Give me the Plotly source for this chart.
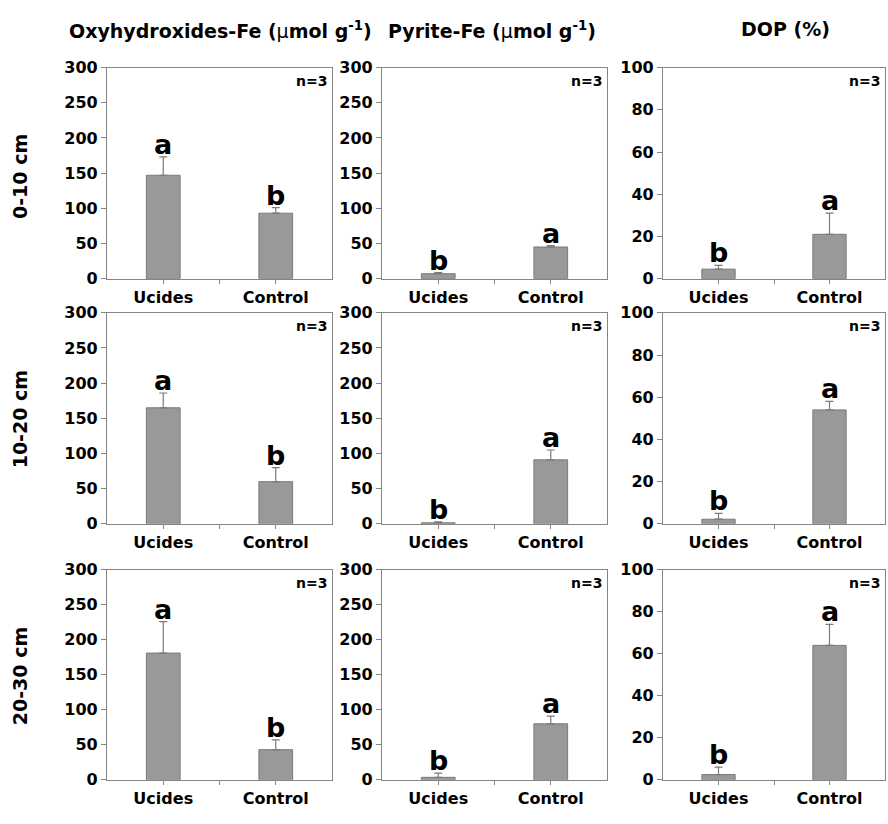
import plotly.graph_objects as go

W, H = 888, 824

categories = ["Ucides", "Control"]
depths = ["0-10 cm", "10-20 cm", "20-30 cm"]
columns = ["<b>Oxyhydroxides-Fe (</b>μ<b>mol g<sup>-1</sup>)</b>",
           "<b>Pyrite-Fe (</b>μ<b>mol g<sup>-1</sup>)</b>",
           "<b>DOP (%)</b>"]

# values[row][col] = [Ucides, Control]
oxy_mean = [[147, 93], [165, 60], [181, 43]]
oxy_err = [[26, 8], [21, 20], [45, 14]]
pyr_mean = [[7, 45], [1.5, 91], [3.5, 80]]
pyr_err = [[1.5, 2], [1.5, 14], [6, 11]]
dop_mean = [[4.5, 21], [2.2, 54], [2.5, 64]]
dop_err = [[1.8, 10], [2.8, 4], [3.5, 10]]
letters = [[["a", "b"], ["b", "a"], ["b", "a"]],
           [["a", "b"], ["b", "a"], ["b", "a"]],
           [["a", "b"], ["b", "a"], ["b", "a"]]]
ymax = [300, 300, 100]
ydtick = [50, 50, 20]
n_label = "n=3"

means = [oxy_mean, pyr_mean, dop_mean]
errs = [oxy_err, pyr_err, dop_err]

col_px = [(107, 332), (382, 607), (663, 885)]
row_px = [(60, 276), (311, 527), (574, 789)]

FONT = "DejaVu Sans, Arial, sans-serif"
AX = "#858585"

fig = go.Figure()
layout = dict(width=W, height=H, margin=dict(l=0, r=0, t=0, b=0),
              paper_bgcolor="white", plot_bgcolor="white", showlegend=False,
              font=dict(family=FONT, color="black"))
annotations = []

xpos = [i + 0.5 for i in range(len(categories))]

k = 0
for r in range(3):
    for c in range(3):
        k += 1
        xa = "x" if k == 1 else f"x{k}"
        ya = "y" if k == 1 else f"y{k}"
        xl = "xaxis" if k == 1 else f"xaxis{k}"
        yl = "yaxis" if k == 1 else f"yaxis{k}"
        m = means[c][r]
        e = errs[c][r]
        fig.add_trace(go.Bar(
            x=xpos, y=m, width=0.3, xaxis=xa, yaxis=ya,
            marker=dict(color="#999999", line=dict(color="#7a7a7a", width=1)),
            error_y=dict(type="data", array=e, arrayminus=[0] * len(e), symmetric=False,
                         color="#7a7a7a", thickness=1.2, width=4),
        ))
        x0, x1 = col_px[c]
        y0, y1 = row_px[r]
        layout[xl] = dict(domain=[x0 / W, x1 / W], range=[0, 2], anchor=ya,
                          tickvals=xpos, ticktext=[f"<b>{t}</b>" for t in categories],
                          ticks="outside", ticklen=4, tickcolor=AX, showline=True, linecolor=AX,
                          minor=dict(tickvals=[1], ticks="outside", ticklen=4, tickcolor=AX),
                          linewidth=1.2, mirror=True, showgrid=False, zeroline=False,
                          tickfont=dict(size=16, family=FONT, color="black"), fixedrange=True)
        layout[yl] = dict(domain=[1 - y1 / H, 1 - y0 / H], range=[0, ymax[c]], anchor=xa,
                          dtick=ydtick[c], tick0=0, ticks="outside", ticklen=5, tickcolor=AX,
                          showline=True, linecolor=AX, linewidth=1.2, mirror=True,
                          showgrid=False, zeroline=False, tickprefix="<b>", ticksuffix="</b>",
                          tickfont=dict(size=16, family=FONT, color="black"), fixedrange=True)
        # letters
        for i in range(len(categories)):
            annotations.append(dict(x=xpos[i], y=m[i] + e[i], xref=xa, yref=ya,
                                    text=f"<b>{letters[r][c][i]}</b>", showarrow=False,
                                    yanchor="bottom", yshift=-5,
                                    font=dict(size=27, family=FONT, color="black")))
        annotations.append(dict(x=1.97, y=ymax[c] * 0.985, xref=xa, yref=ya, text=f"<b>{n_label}</b>",
                                showarrow=False, xanchor="right", yanchor="top",
                                font=dict(size=14, family=FONT, color="black")))

title_x = [220, 492, 785]
title_y = [22, 22, 20]
for c in range(3):
    annotations.append(dict(x=title_x[c] / W, y=1 - title_y[c] / H, xref="paper", yref="paper",
                            text=columns[c], showarrow=False, xanchor="center", yanchor="middle",
                            font=dict(size=19, family=FONT, color="black")))

row_y = [172, 420, 683]
for r in range(3):
    annotations.append(dict(x=20 / W, y=1 - row_y[r] / H, xref="paper", yref="paper",
                            text=f"<b>{depths[r]}</b>", showarrow=False, textangle=-90,
                            xanchor="center", yanchor="middle",
                            font=dict(size=19, family=FONT, color="black")))

layout["annotations"] = annotations
fig.update_layout(**layout)
fig.write_html("out.html")
